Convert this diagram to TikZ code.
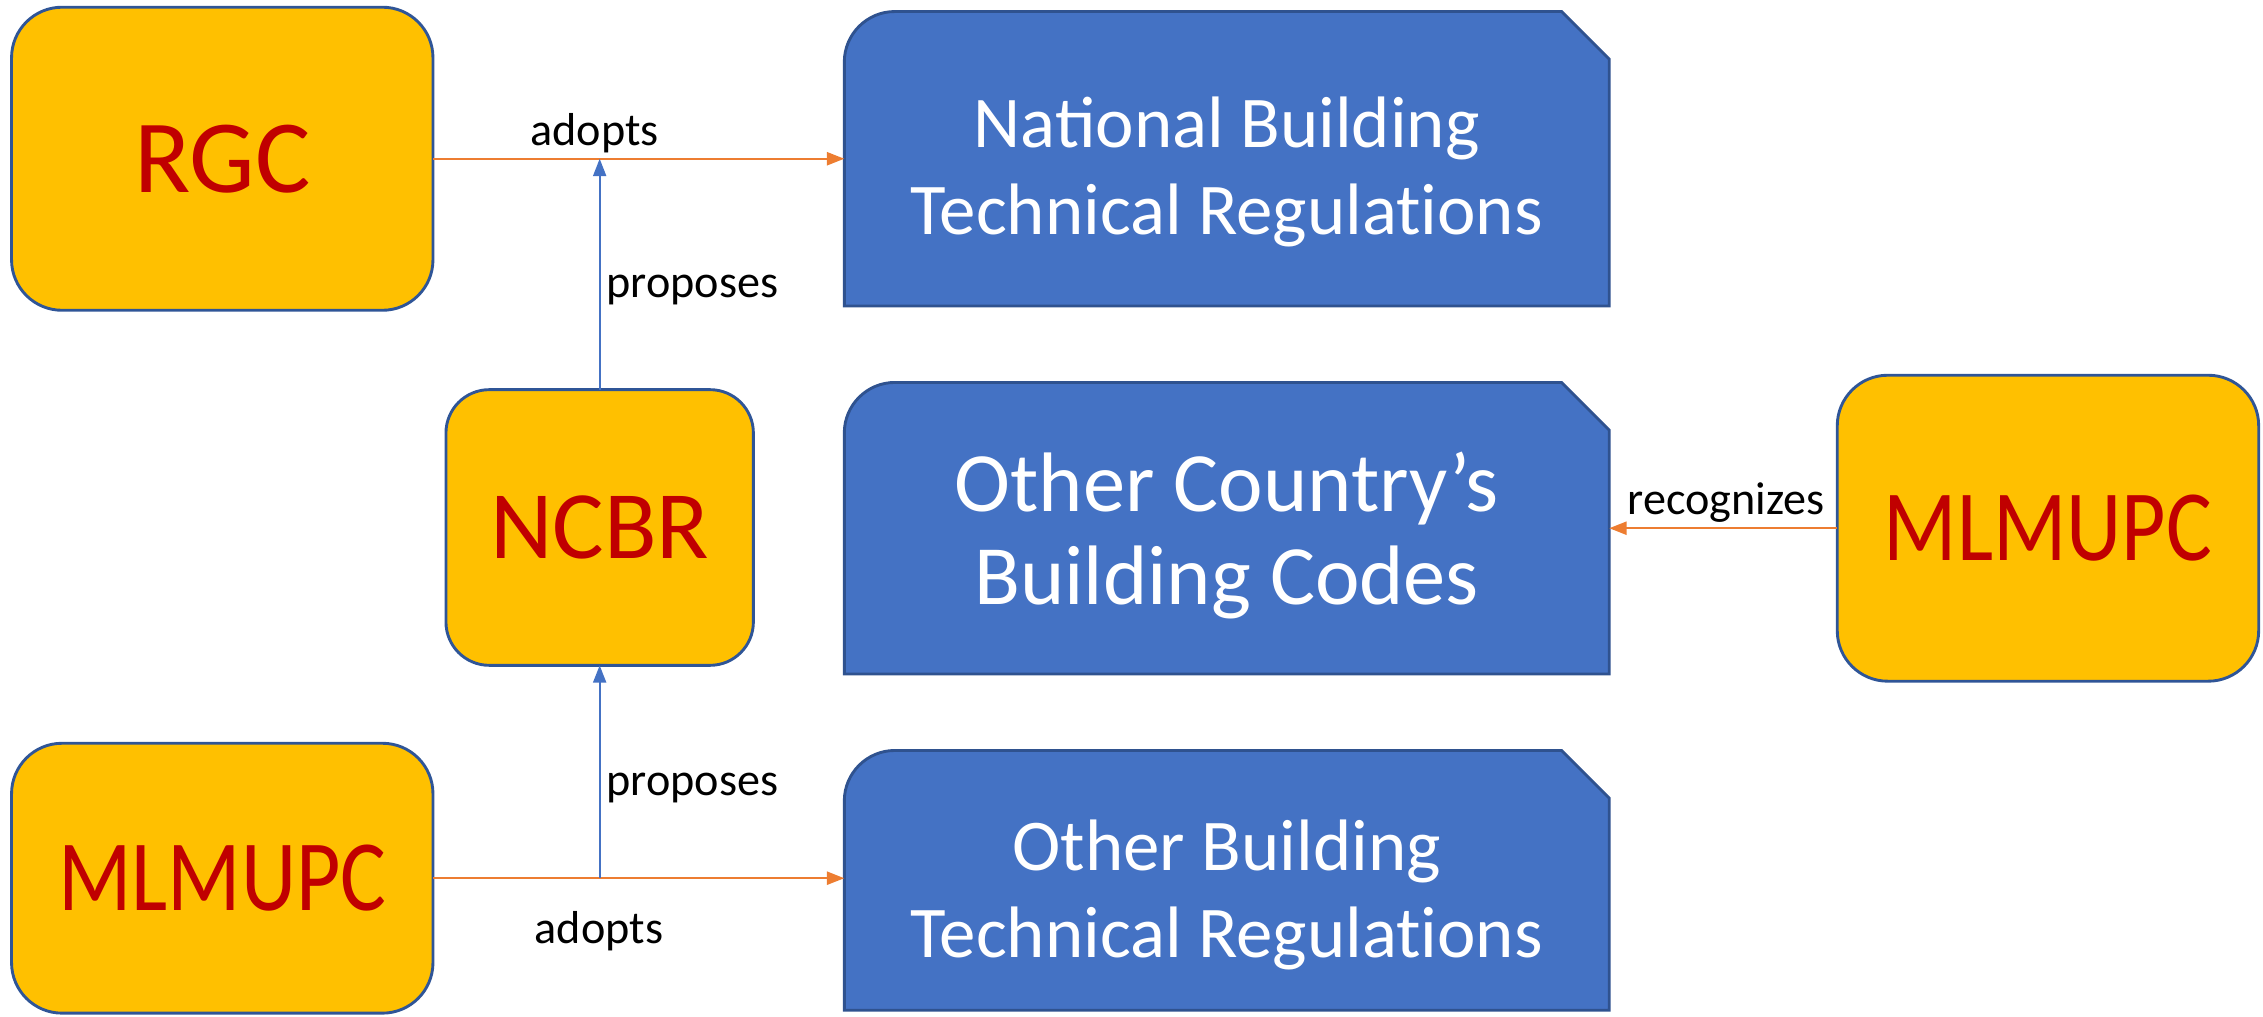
\documentclass[tikz,border=0pt]{standalone}
\usepackage{fontspec}
\setmainfont{Carlito}
\usetikzlibrary{arrows.meta,backgrounds}
\definecolor{ygold}{HTML}{FFC000}
\definecolor{bordblue}{HTML}{2F5597}
\definecolor{redtxt}{HTML}{C00000}
\definecolor{bfill}{HTML}{4472C4}
\definecolor{bborder}{HTML}{2F528F}
\definecolor{orng}{HTML}{ED7D31}
\definecolor{cblue}{HTML}{4472C4}
\begin{document}
\begin{tikzpicture}[x=1pt,y=1pt,
  ybox/.style={draw=bordblue, line width=2pt, fill=ygold, rounded corners=35pt, text=redtxt, inner sep=0pt, outer sep=0pt},
  bbox/.style={inner sep=0pt, outer sep=0pt},
  btext/.style={text=white, align=center, inner sep=0pt},
  lbl/.style={font=\fontsize{32}{38}\selectfont, inner sep=0pt, text=black},
  oarr/.style={draw=orng, line width=1.6pt, -{Triangle[length=12pt,width=9pt]}},
  barr/.style={draw=cblue, line width=1.4pt, -{Triangle[length=12pt,width=9pt]}},
  bshape/.style={fill=bfill, draw=bborder, line width=2pt}]
\useasboundingbox (0,0) rectangle (1568,704);

% yellow boxes
\node[ybox, minimum width=292pt, minimum height=210pt, font=\fontsize{72}{86}\selectfont] (rgc) at (154,594) {RGC};
\node[ybox, rounded corners=30pt, minimum width=213pt, minimum height=191pt, font=\fontsize{67}{80}\selectfont] (ncbr) at (415.5,338.5) {NCBR};
\node[ybox, minimum width=292pt, minimum height=212pt, font=\fontsize{70}{80}\selectfont] (mlr) at (1419,338) {\scalebox{0.85}[1]{MLMUPC}};
\node[ybox, minimum width=292pt, minimum height=187pt, font=\fontsize{70}{80}\selectfont] (mll) at (154,95.5) {\scalebox{0.85}[1]{MLMUPC}};

% blue document shapes (anchors)
\node[bbox, minimum width=530pt, minimum height=204pt] (nbtr) at (850,594) {};
\node[bbox, minimum width=530pt, minimum height=202pt] (ocbc) at (850,338) {};
\node[bbox, minimum width=530pt, minimum height=180pt] (obtr) at (850,94) {};

\node[btext, font=\fontsize{50.5}{60}\selectfont] (nbtrt) at ([yshift=-9pt]nbtr.center) {National Building\\Technical Regulat\kern0pt ions};
\node[btext, font=\fontsize{58.5}{65}\selectfont] (ocbct) at ([yshift=-5pt]ocbc.center) {Other Country’s\\Building Codes};
\node[btext, font=\fontsize{50.5}{60}\selectfont] (obtrt) at ([yshift=-10pt]obtr.center) {Other Building\\Technical Regulat\kern0pt ions};

\begin{scope}[on background layer]
\foreach \n in {nbtr,ocbc,obtr}
  \draw[bshape] (\n.south west) -- ([yshift=-35pt]\n.north west)
    arc[start angle=180,end angle=90,radius=35pt]
    -- ([xshift=-33pt]\n.north east) -- ([yshift=-33pt]\n.north east)
    -- (\n.south east) -- cycle;
\end{scope}

% connectors
\coordinate (j1) at (ncbr.north |- rgc.east);
\coordinate (j2) at (ncbr.south |- mll.east);
\draw[oarr] (rgc.east) -- (rgc.east -| nbtr.west);
\draw[barr] (ncbr.north) -- (j1);
\draw[oarr] (mlr.west) -- (mlr.west -| ocbc.east);
\draw[oarr] (mll.east) -- (mll.east -| obtr.west);
\draw[barr] (j2) -- (ncbr.south);

% labels
\node[lbl] (l1) at (412,612) {adopts};
\node[lbl, anchor=west] (l2) at (420,503) {proposes};
\node[lbl] (l3) at (1196,356) {recognizes};
\node[lbl, anchor=west] (l4) at (420,158) {proposes};
\node[lbl] (l5) at (415,59) {adopts};
\end{tikzpicture}
\end{document}
